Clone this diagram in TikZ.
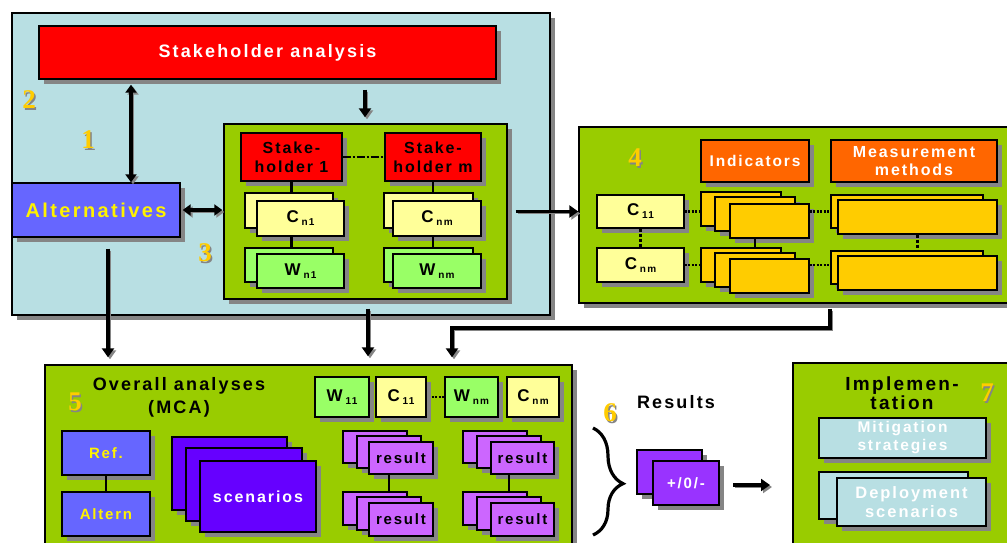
\documentclass[tikz,border=0pt]{standalone}
\usepackage{fontspec}
\setmainfont{Liberation Sans}
\newfontfamily\lsf[LetterSpace=12]{Liberation Sans}
\newfontfamily\numf{Liberation Serif}
\usetikzlibrary{arrows.meta,shadows,decorations.pathreplacing}
\definecolor{lblue}{HTML}{B8DFE3}
\definecolor{pgreen}{HTML}{99CC00}
\definecolor{altblue}{HTML}{6666FF}
\definecolor{lyel}{HTML}{FFFF99}
\definecolor{lgreen}{HTML}{99FF66}
\definecolor{orng}{HTML}{FF6600}
\definecolor{gold}{HTML}{FFCC00}
\definecolor{viol}{HTML}{6600FF}
\definecolor{pink}{HTML}{CC66FF}
\definecolor{purp}{HTML}{9933FF}
\definecolor{shgray}{HTML}{858585}
\newcommand\fz[2]{\fontsize{#1}{#2}\selectfont}
\newcommand\sbs[2]{#1\,{\fz{10}{10}\raisebox{-3pt}{#2}}}
\newcommand\rb[7]{\node[bx,#6,minimum width={(#4-#2)*1pt},minimum height={(#5-#3)*1pt}] (#1) at ({(#2+#4)/2},{(#3+#5)/2}) {#7};}
\newcommand\gnum[4]{\node[font=\numf\bfseries\fz{27}{27},text=shgray] at (#2+1.5,#3+1.5) {#4};
  \node[font=\numf\bfseries\fz{27}{27},text=gold] (#1) at (#2,#3) {#4};}
\tikzset{
  bx/.style={draw=black,line width=1.4pt,inner sep=0pt,align=center,font=\lsf\bfseries\fz{15}{18},
    drop shadow={shadow xshift=5pt,shadow yshift=-5pt,fill=shgray,opacity=1}},
  cw/.style={font=\lsf\bfseries\fz{17}{17}},
  shd/.style={preaction={draw=shgray,transform canvas={shift={(2pt,-2pt)}}}},
  arr/.style={shd,line width=3.6pt,-{Triangle[width=12pt,length=9pt]}},
  darr/.style={shd,line width=3.6pt,{Triangle[width=11pt,length=8pt]}-{Triangle[width=11pt,length=8pt]}},
  ln/.style={line width=2.8pt},
  dln/.style={line width=2.8pt,dash pattern=on 3pt off 2pt},
  dotln/.style={line width=2.8pt,dash pattern=on 2pt off 1.5pt},
  ddln/.style={line width=2.4pt,dash pattern=on 8pt off 2pt on 2pt off 2pt},
}
\begin{document}
\begin{tikzpicture}[x=1pt,y=-1pt]
\useasboundingbox (0,0) rectangle (1007,542);
\clip (0,0) rectangle (1007,542);
% ---------- panel 2
\rb{p2}{12}{13}{550}{315}{fill=lblue}{}
\rb{sa}{39}{26}{496}{79}{fill=red,text=white,font=\lsf\bfseries\fz{18}{20}}{Stakeholder analysis}
\rb{alt}{12}{183}{180}{237}{fill=altblue,text=yellow,font=\lsf\bfseries\fz{20}{22}}{Alternatives}
\rb{p3}{224}{124}{507}{299}{fill=pgreen}{}
\rb{sh1}{241}{133}{342}{181}{fill=red,font=\lsf\bfseries\fz{16}{19}}{Stake-\\holder 1}
\rb{shm}{385}{133}{481}{181}{fill=red,font=\lsf\bfseries\fz{16}{19}}{Stake-\\holder m}
\rb{cn1b}{245}{193}{333}{228}{fill=lyel}{}
\rb{cn1}{257}{201}{344}{236}{fill=lyel,cw}{\sbs{C}{n1}}
\rb{wn1b}{245}{248}{333}{282}{fill=lgreen}{}
\rb{wn1}{257}{254}{344}{288}{fill=lgreen,cw}{\sbs{W}{n1}}
\rb{cnmb}{384}{193}{473}{228}{fill=lyel}{}
\rb{cnm}{393}{201}{481}{236}{fill=lyel,cw}{\sbs{C}{nm}}
\rb{wnmb}{384}{248}{473}{282}{fill=lgreen}{}
\rb{wnm}{393}{254}{481}{288}{fill=lgreen,cw}{\sbs{W}{nm}}
\draw[ddln] (sh1.east) -- (shm.west);
\draw[ln] (sh1.south) -- (sh1.south |- cn1b.north);
\draw[ln] (sh1.south |- cn1.south) -- (sh1.south |- wn1b.north);
\draw[ln] (shm.south) -- (shm.south |- cnmb.north);
\draw[ln] (shm.south |- cnm.south) -- (shm.south |- wnmb.north);
\gnum{n2}{29}{100}{2}
\gnum{n1}{88}{140}{1}
\gnum{n3}{205}{253}{3}
% ---------- panel 4
\rb{p4}{579}{127}{1015}{303}{fill=pgreen}{}
\rb{ind}{701}{140}{809}{182}{fill=orng,text=white,font=\lsf\bfseries\fz{15.5}{17}}{Indicators}
\rb{meas}{831}{140}{997}{182}{fill=orng,text=white,font=\lsf\bfseries\fz{16}{18}}{Measurement\\methods}
\rb{c11}{597}{195}{684}{228}{fill=lyel,cw}{\sbs{C}{11}}
\rb{cnmf}{597}{248}{684}{282}{fill=lyel,cw}{\sbs{C}{nm}}
\rb{i1a}{701}{192}{781}{226}{fill=gold}{}
\rb{i1b}{715}{197}{795}{231}{fill=gold}{}
\rb{i1c}{730}{204}{809}{238}{fill=gold}{}
\rb{i2a}{701}{248}{781}{282}{fill=gold}{}
\rb{i2b}{715}{253}{795}{287}{fill=gold}{}
\rb{i2c}{730}{259}{809}{293}{fill=gold}{}
\rb{m1b}{831}{195}{983}{228}{fill=gold}{}
\rb{m1}{838}{200}{997}{234}{fill=gold}{}
\rb{m2b}{831}{251}{983}{284}{fill=gold}{}
\rb{m2}{838}{256}{997}{290}{fill=gold}{}
\draw[dln] (c11.south) -- (cnmf.north);
\draw[dotln] (c11.east) -- (c11.east -| i1a.west);
\draw[dotln] (cnmf.east) -- (cnmf.east -| i2a.west);
\draw[dotln] (c11.east -| i1c.east) -- (c11.east -| m1b.west);
\draw[dotln] (cnmf.east -| i2c.east) -- (cnmf.east -| m2b.west);
\draw[ln] (i1b.south |- i1c.south) -- (i1b.south |- i2a.north);
\draw[dln] (m1.south) -- (m1.south |- m2b.north);
\gnum{n4}{635}{158}{4}
% ---------- panel 5
\rb{p5}{45}{365}{572}{570}{fill=pgreen}{}
\node[font=\lsf\bfseries\fz{18}{23},align=center] (ova) at (179,397) {Overall analyses\\(MCA)};
\rb{w11}{315}{377}{369}{417}{fill=lgreen,cw}{\sbs{W}{11}}
\rb{c11b}{376}{377}{426}{417}{fill=lyel,cw}{\sbs{C}{11}}
\rb{wnm5}{445}{377}{498}{417}{fill=lgreen,cw}{\sbs{W}{nm}}
\rb{cnm5}{507}{377}{559}{417}{fill=lyel,cw}{\sbs{C}{nm}}
\draw[dotln] ([xshift=5pt]c11b.east) -- (wnm5.west);
\rb{ref}{62}{431}{150}{475}{fill=altblue,text=yellow,font=\lsf\bfseries\fz{15}{17}}{Ref.}
\rb{altn}{62}{492}{150}{536}{fill=altblue,text=yellow,font=\lsf\bfseries\fz{15}{17}}{Altern}
\draw[ln] (ref.south) -- (altn.north);
\rb{sc1}{172}{437}{287}{510}{fill=viol}{}
\rb{sc2}{186}{448}{302}{521}{fill=viol}{}
\rb{sc3}{200}{461}{316}{532}{fill=viol,text=white,font=\lsf\bfseries\fz{16}{18}}{scenarios}
\rb{r1a}{343}{431}{407}{463}{fill=pink}{}
\rb{r1b}{357}{436}{421}{468}{fill=pink}{}
\rb{r1c}{369}{442}{433}{474}{fill=pink,font=\lsf\bfseries\fz{15}{17}}{result}
\rb{r2a}{343}{492}{407}{525}{fill=pink}{}
\rb{r2b}{357}{497}{421}{530}{fill=pink}{}
\rb{r2c}{369}{503}{433}{536}{fill=pink,font=\lsf\bfseries\fz{15}{17}}{result}
\rb{r3a}{463}{431}{527}{463}{fill=pink}{}
\rb{r3b}{477}{436}{541}{468}{fill=pink}{}
\rb{r3c}{491}{442}{554}{474}{fill=pink,font=\lsf\bfseries\fz{15}{17}}{result}
\rb{r4a}{463}{492}{527}{525}{fill=pink}{}
\rb{r4b}{477}{497}{541}{530}{fill=pink}{}
\rb{r4c}{491}{503}{554}{536}{fill=pink,font=\lsf\bfseries\fz{15}{17}}{result}
\draw[ln] (r1b.south |- r1c.south) -- (r1b.south |- r2a.north);
\draw[ln] (r3b.south |- r3c.south) -- (r3b.south |- r4a.north);
\gnum{n5}{75}{402}{5}
% ---------- results
\node[font=\lsf\bfseries\fz{18}{20}] (res) at (676,402) {Results};
\gnum{n6}{610}{413}{6}
\coordinate (bt) at (593,428);
\coordinate (bb) at (593,535);
\draw[line width=3.2pt,decorate,decoration={brace,amplitude=30pt,aspect=0.52}] (bt) -- (bb);
\rb{pmb}{637}{450}{702}{494}{fill=purp}{}
\rb{pm}{653}{461}{719}{505}{fill=purp,text=white,font=\lsf\bfseries\fz{15}{17}}{+/0/-}
\coordinate (a6s) at (733,485);
\coordinate (a6e) at (770,485);
\draw[arr] (a6s) -- (a6e);
% ---------- panel 7
\rb{p7}{793}{363}{1015}{570}{fill=pgreen}{}
\node[font=\lsf\bfseries\fz{19}{19},align=center] (impl) at (902,393) {Implemen-\\tation};
\gnum{n7}{987}{393}{7}
\rb{mit}{819}{418}{986}{458}{fill=lblue,text=white,font=\lsf\bfseries\fz{15.5}{18}}{Mitigation\\strategies}
\rb{depb}{819}{472}{968}{519}{fill=lblue}{}
\rb{dep}{837}{478}{986}{526}{fill=lblue,text=white,font=\lsf\bfseries\fz{16.5}{19}}{Deployment\\scenarios}
% ---------- arrows between panels
\coordinate (xa) at (131,0);
\coordinate (xb) at (365,0);
\coordinate (xc) at (108,0);
\coordinate (xd) at (368,0);
\draw[darr,shorten <=5pt] (xa |- sa.south) -- (xa |- alt.north);
\draw[darr,shorten <=2pt,shorten >=1pt] (alt.east) -- (alt.east -| p3.west);
\draw[arr,shorten <=10pt,shorten >=6pt] (xb |- sa.south) -- (xb |- p3.north);
\draw[arr,shorten <=8pt] (p3.east) -- (p3.east -| p4.west);
\draw[arr,shorten <=11pt,shorten >=7pt] (xc |- alt.south) -- (xc |- p5.north);
\draw[arr,shorten <=9pt,shorten >=8pt] (xd |- p3.south) -- (xd |- p5.north);
\coordinate (k1) at (830,328);
\coordinate (k2) at (452,328);
\draw[arr,shorten <=5pt,shorten >=7pt] (k1 |- p4.south) -- (k1) -- (k2) -- (k2 |- p5.north);
\end{tikzpicture}
\end{document}
